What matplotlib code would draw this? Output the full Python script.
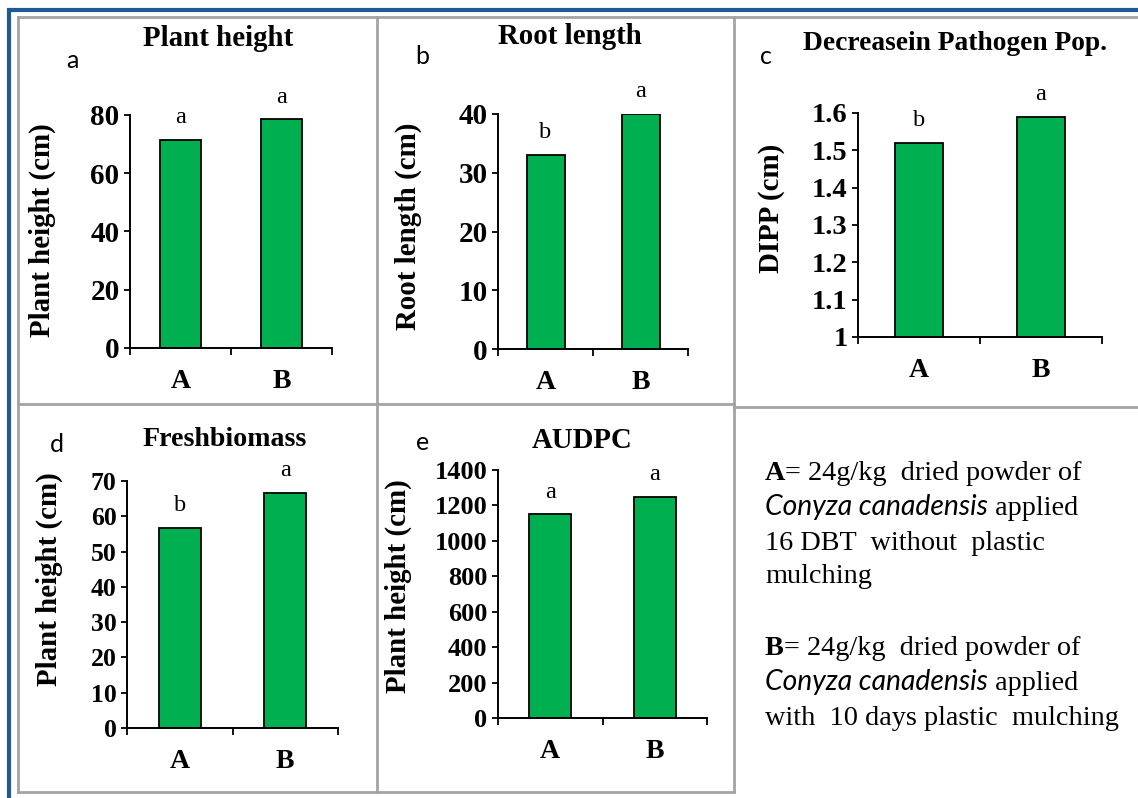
import matplotlib
matplotlib.use("Agg")
import matplotlib.pyplot as plt

W, H = 1138, 798
SERIF = "Liberation Serif"
SANS = "Lato"
BAR_GREEN = "#00b050"
FRAME_BLUE = "#1d5a96"
FRAME_GRAY = "#a3a3a3"

categories = ["A", "B"]

plant_height = [71.5, 78.5]
root_length = [33.0, 40.0]
dipp = [1.52, 1.59]
fresh_biomass = [56.7, 66.7]
audpc = [1150, 1250]

plant_height_sig = ["a", "a"]
root_length_sig = ["b", "a"]
dipp_sig = ["b", "a"]
fresh_biomass_sig = ["b", "a"]
audpc_sig = ["a", "a"]

plant_height_ticks = [0, 20, 40, 60, 80]
root_length_ticks = [0, 10, 20, 30, 40]
dipp_ticks = [1, 1.1, 1.2, 1.3, 1.4, 1.5, 1.6]
fresh_biomass_ticks = [0, 10, 20, 30, 40, 50, 60, 70]
audpc_ticks = [0, 200, 400, 600, 800, 1000, 1200, 1400]

# panel layout in pixels: axes box (left, top, right, bottom), title xy,
# corner letter xy, y-label xy; font sizes differ a little per panel
panels = [
    dict(values=plant_height, sig=plant_height_sig, ticks=plant_height_ticks,
         title="Plant height", letter="a", ylabel="Plant height (cm)",
         box=(130, 115, 332, 348), title_xy=(218, 38), letter_xy=(72, 60),
         ylabel_xy=(42, 230), tick_size=21, title_size=20.8),
    dict(values=root_length, sig=root_length_sig, ticks=root_length_ticks,
         title="Root length", letter="b", ylabel="Root length (cm)",
         box=(498, 114, 688, 349), title_xy=(570, 37), letter_xy=(422, 57),
         ylabel_xy=(408, 226), tick_size=21, title_size=20.8),
    dict(values=dipp, sig=dipp_sig, ticks=dipp_ticks,
         title="Decreasein Pathogen Pop.", letter="c", ylabel="DIPP (cm)",
         box=(858, 113, 1102, 337), title_xy=(955, 43), letter_xy=(766, 57),
         ylabel_xy=(772, 208), tick_size=20.5, title_size=19.8),
    dict(values=fresh_biomass, sig=fresh_biomass_sig, ticks=fresh_biomass_ticks,
         title="Freshbiomass", letter="d", ylabel="Plant height (cm)",
         box=(127, 481, 338, 728), title_xy=(225, 440), letter_xy=(57, 444),
         ylabel_xy=(49, 579), tick_size=18.5, title_size=20.2),
    dict(values=audpc, sig=audpc_sig, ticks=audpc_ticks,
         title="AUDPC", letter="e", ylabel="Plant height (cm)",
         box=(498, 470, 707, 718), title_xy=(582, 440), letter_xy=(423, 442),
         ylabel_xy=(398, 586), tick_size=19, title_size=20.7),
]

fig = plt.figure(figsize=(W / 100, H / 100), dpi=100)

# full-figure canvas in pixel units for frames and free text
canvas = fig.add_axes([0, 0, 1, 1])
canvas.set_xlim(0, W)
canvas.set_ylim(H, 0)
canvas.axis("off")

# outer blue frame
canvas.plot([9.5, 9.5, W], [H, 10, 10], color=FRAME_BLUE, lw=3.0,
            solid_joinstyle="miter")

# gray panel grid
gray = dict(color=FRAME_GRAY, lw=2.0)
canvas.plot([18, W], [16.5, 16.5], **gray)
canvas.plot([18, 18], [16.5, 792], **gray)
canvas.plot([18, 734.5], [792, 792], **gray)
canvas.plot([377.5, 377.5], [16.5, 792], **gray)
canvas.plot([734.5, 734.5], [16.5, 792], **gray)
canvas.plot([18, 734.5], [404, 404], **gray)
canvas.plot([734.5, W], [407, 407], **gray)


def px_box(left, top, right, bottom):
    return [left / W, 1 - bottom / H, (right - left) / W, (bottom - top) / H]


for p in panels:
    ax = fig.add_axes(px_box(*p["box"]))
    ymin, ymax = p["ticks"][0], p["ticks"][-1]
    x = range(len(categories))
    heights = [v - ymin for v in p["values"]]
    ax.bar(x, heights, bottom=ymin, width=0.4, color=BAR_GREEN,
           edgecolor="black", linewidth=1.3, zorder=2)

    for i, (v, s) in enumerate(zip(p["values"], p["sig"])):
        ax.annotate(s, xy=(i, v), xytext=(0, 12), textcoords="offset points",
                    ha="center", va="baseline", family=SERIF, fontsize=17.5,
                    annotation_clip=False)

    ax.set_xlim(-0.5, len(categories) - 0.5)
    ax.set_ylim(ymin, ymax)
    ax.set_facecolor("none")
    for side in ("top", "right"):
        ax.spines[side].set_visible(False)
    for side in ("left", "bottom"):
        ax.spines[side].set_linewidth(1.4)

    ax.set_yticks(p["ticks"])
    ax.set_yticklabels([f"{t:g}" for t in p["ticks"]], family=SERIF,
                       fontweight="bold", fontsize=p["tick_size"])
    ax.tick_params(axis="y", direction="out", length=4.5, width=1.3, pad=3)

    ax.set_xticks(list(x))
    ax.set_xticklabels(categories, family=SERIF, fontweight="bold", fontsize=20)
    ax.set_xticks([-0.5, 0.5, 1.5], minor=True)
    ax.tick_params(axis="x", which="major", length=0, pad=15)
    ax.tick_params(axis="x", which="minor", direction="out", length=5, width=1.3)

    ax.set_ylabel(p["ylabel"], family=SERIF, fontweight="bold", fontsize=20.8)
    ax.yaxis.set_label_coords(*p["ylabel_xy"], transform=canvas.transData)
    ax.yaxis.label.set_va("center")

    canvas.text(*p["title_xy"], p["title"], family=SERIF, fontweight="bold",
                fontsize=p["title_size"], ha="center", va="center")
    canvas.text(*p["letter_xy"], p["letter"], family=SANS, fontsize=18,
                ha="center", va="center")


def rich_line(x, y, parts):
    """Draw text pieces one after another on a shared baseline."""
    prev = None
    for text, style in parts:
        props = dict(family=SERIF, fontsize=20.3, va="baseline", ha="left")
        if style == "bold":
            props["fontweight"] = "bold"
        elif style == "italic":
            props.update(family=SANS, style="italic")
        if prev is None:
            prev = canvas.text(x, y, text, **props)
        else:
            prev = canvas.annotate(text, xy=(1, y), xycoords=(prev, "data"),
                                   **props)


legend_lines = [
    (480, [("A", "bold"), ("= 24g/kg  dried powder of", "")]),
    (515, [("Conyza canadensis", "italic"), (" applied", "")]),
    (550, [("16 DBT  without  plastic", "")]),
    (583, [("mulching", "")]),
    (655, [("B", "bold"), ("= 24g/kg  dried powder of", "")]),
    (690, [("Conyza canadensis", "italic"), (" applied", "")]),
    (725, [("with  10 days plastic  mulching", "")]),
]
for y, parts in legend_lines:
    rich_line(765, y, parts)

fig.savefig("out.png", dpi=100)
